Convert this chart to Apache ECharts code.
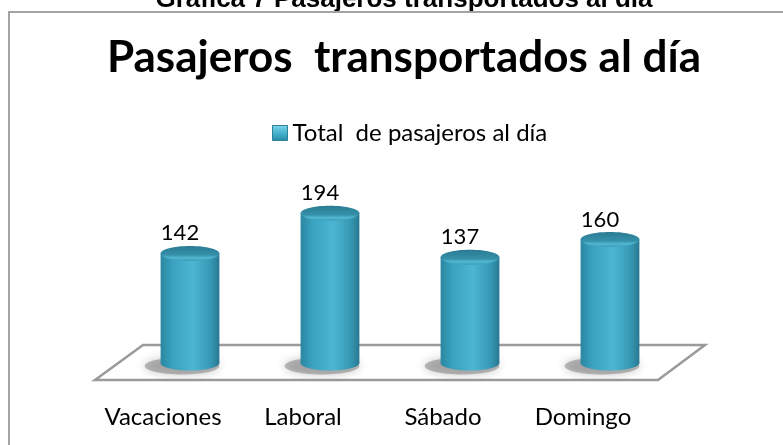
<!DOCTYPE html>
<html>
<head>
<meta charset="utf-8">
<script src="https://cdn.jsdelivr.net/npm/echarts@6/dist/echarts.min.js"></script>
<style>
  html, body { margin: 0; padding: 0; background: #fff; }
  #chart { width: 783px; height: 445px; }
</style>
</head>
<body>
<div id="chart"></div>
<script>
var categories = ['Vacaciones', 'Laboral', 'Sábado', 'Domingo']
var pasajeros = [142, 194, 137, 160]
var seriesName = 'Total  de pasajeros al día'

var chart = echarts.init(document.getElementById('chart'))

// cilindro 3D para cada barra
function renderCylinder(params, api) {
  var top = api.coord([api.value(0), api.value(1)])
  var base = api.coord([api.value(0), 0])
  var rx = api.size([1, 0])[0] * 0.21
  var ry = 7.5
  var cx = top[0]
  var bodyFill = new echarts.graphic.LinearGradient(0, 0, 1, 0, [
    { offset: 0, color: '#2b86a0' },
    { offset: 0.2, color: '#3aa2bf' },
    { offset: 0.55, color: '#4cb6d2' },
    { offset: 0.85, color: '#3798b4' },
    { offset: 1, color: '#287890' }
  ])
  var capFill = new echarts.graphic.LinearGradient(0, 0, 0, 1, [
    { offset: 0, color: '#2a7b92' },
    { offset: 0.6, color: '#3590a9' },
    { offset: 0.8, color: '#52b8d2' },
    { offset: 1, color: '#3a9cb7' }
  ])
  return {
    type: 'group',
    children: [
      {
        type: 'ellipse',
        shape: { cx: cx - 8, cy: base[1] + 3, rx: rx + 8, ry: ry + 1 },
        style: { fill: 'rgba(110,110,110,0.45)', shadowBlur: 10, shadowColor: 'rgba(80,80,80,0.7)' }
      },
      {
        type: 'ellipse',
        shape: { cx: cx, cy: base[1], rx: rx, ry: ry },
        style: { fill: bodyFill }
      },
      {
        type: 'rect',
        shape: { x: cx - rx, y: top[1], width: rx * 2, height: base[1] - top[1] },
        style: { fill: bodyFill }
      },
      {
        type: 'ellipse',
        shape: { cx: cx, cy: top[1], rx: rx, ry: ry },
        style: { fill: capFill }
      },
      {
        type: 'text',
        x: cx - 10,
        y: top[1] - 20,
        style: {
          text: String(api.value(1)),
          fill: '#000',
          font: '22px Lato',
          align: 'center',
          verticalAlign: 'middle'
        }
      }
    ]
  }
}

chart.setOption({
  animation: false,
  title: {
    text: 'Pasajeros  transportados al día',
    left: 399,
    top: 31,
    textAlign: 'center',
    textStyle: { fontFamily: 'Lato', fontWeight: 'bold', fontSize: 44, color: '#000' }
  },
  legend: {
    data: [seriesName],
    left: 267,
    top: 116,
    itemWidth: 15,
    itemHeight: 15,
    itemGap: 6,
    icon: 'rect',
    itemStyle: {
      color: new echarts.graphic.LinearGradient(0, 0, 0, 1, [
        { offset: 0, color: '#7fd6ec' },
        { offset: 0.5, color: '#45b3d0' },
        { offset: 1, color: '#2a8aa6' }
      ]),
      borderColor: '#2f7f96',
      borderWidth: 1
    },
    textStyle: { fontFamily: 'Lato', fontSize: 24, color: '#000' }
  },
  grid: { left: 120, right: 103, top: 170, bottom: 82 },
  xAxis: {
    type: 'category',
    data: categories,
    axisLine: { show: false },
    axisTick: { show: false },
    axisLabel: {
      interval: 0,
      hideOverlap: false,
      margin: 42,
      padding: [0, 54, 0, 0],
      fontFamily: 'Lato',
      fontSize: 24,
      color: '#000'
    }
  },
  yAxis: { type: 'value', min: 0, max: 250, show: false },
  graphic: [
    {
      type: 'text',
      x: 404,
      y: 0,
      style: {
        text: 'Gráfica 7 Pasajeros transportados al día',
        font: 'bold 26px "Liberation Sans"',
        fill: '#000',
        align: 'center',
        verticalAlign: 'middle'
      }
    },
    {
      type: 'rect',
      shape: { x: 9, y: 12, width: 800, height: 500 },
      style: { fill: null, stroke: '#a3a3a3', lineWidth: 2 }
    },
    {
      type: 'polygon',
      z: 0,
      shape: { points: [[143, 345], [705, 345], [658, 380], [95, 380]] },
      style: { fill: '#fff', stroke: '#9a9a9a', lineWidth: 2.5 }
    }
  ],
  series: [{
    name: seriesName,
    type: 'custom',
    z: 5,
    itemStyle: { color: '#3aa6c4' },
    renderItem: renderCylinder,
    data: pasajeros.map(function (v, i) { return [i, v] })
  }]
})
</script>
</body>
</html>
